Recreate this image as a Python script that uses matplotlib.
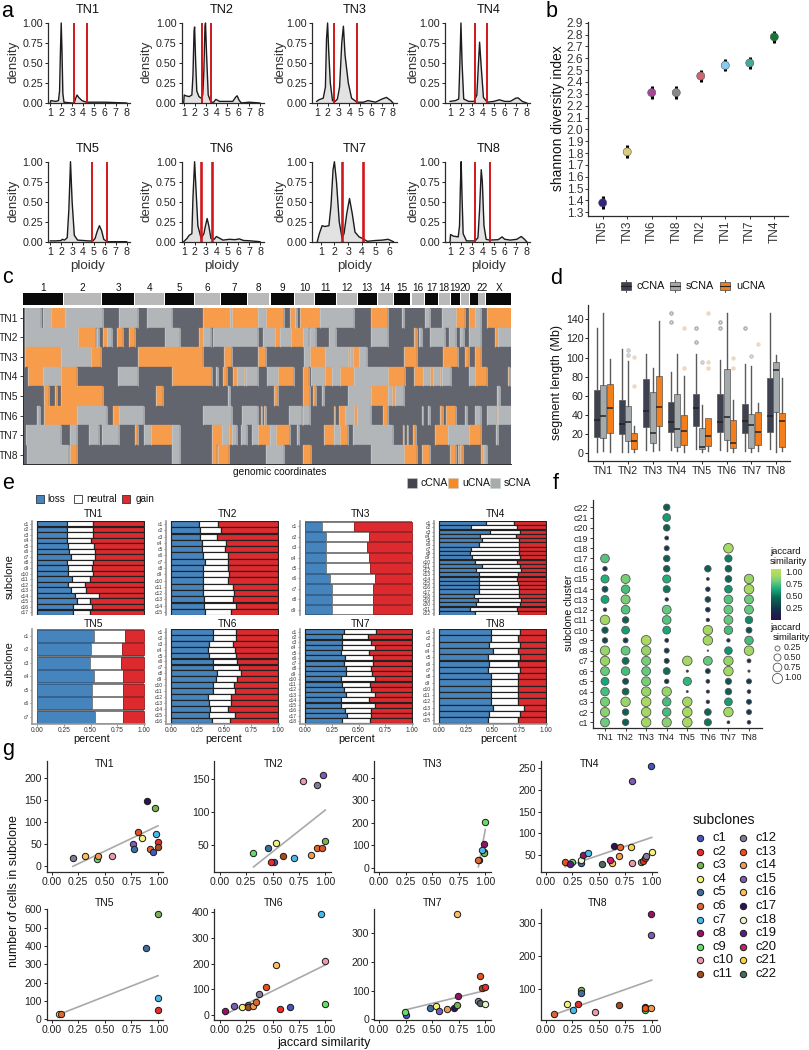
import matplotlib
matplotlib.use('Agg')
import matplotlib.pyplot as plt
from matplotlib.cm import ScalarMappable
from matplotlib.colors import LinearSegmentedColormap, Normalize
from matplotlib.patches import Rectangle
import numpy as np

plt.rcParams['font.family'] = ['Liberation Sans', 'DejaVu Sans']

W, H = 809, 1050
DARK = '#2b2b2b'

# ---- panel a: ploidy density curves
TN1_PLOIDY = [1.0, 1.05, 1.5, 1.75, 1.85, 1.93, 2.0, 2.07, 2.15, 2.25, 3.0, 3.2, 3.3, 3.45, 3.6, 3.9, 4.3, 5, 6, 7, 8]
TN1_DENS = [0, .03, .02, .03, .15, .65, 1.0, .65, .12, .01, 0, 0, .05, .1, .07, .03, .01, .01, .01, .005, 0]
TN2_PLOIDY = [1.0, 1.05, 1.2, 1.5, 1.75, 1.85, 1.95, 2.0, 2.1, 2.2, 2.4, 2.6, 2.75, 2.85, 2.95, 3.0, 3.1, 3.25, 3.5, 3.75, 3.95, 4.3, 5.0, 5.5, 5.75, 5.9, 6.1, 6.3, 7, 8]
TN2_DENS = [0, .1, .09, .08, .1, .35, .9, .95, .5, .15, .08, .06, .1, .4, .95, 1.0, .6, .1, .01, .01, .045, .02, .02, .02, .07, .09, .03, 0, .01, 0]
TN3_PLOIDY = [1.0, 1.2, 1.6, 1.8, 1.9, 2.0, 2.1, 2.25, 2.45, 2.7, 2.9, 3.1, 3.3, 3.45, 3.6, 3.9, 4.2, 4.7, 5.3, 5.7, 6.4, 7.0, 7.4, 7.8, 8]
TN3_DENS = [.02, .04, .06, .2, .8, 1.0, .65, .25, .03, .02, .05, .2, .75, .96, .6, .25, .06, .01, .01, .03, .01, .05, .07, .03, 0]
TN4_PLOIDY = [1, 1.5, 1.8, 1.9, 2, 2.1, 2.25, 2.7, 3.2, 3.45, 3.6, 3.7, 3.85, 4.05, 4.4, 5, 5.5, 6, 6.5, 7, 7.2, 7.6, 8]
TN4_DENS = [.02, .03, .05, .5, 1, .5, .05, .02, .02, .1, .5, .76, .45, .07, .01, .02, .04, .02, .02, .06, .065, .02, 0]
TN5_PLOIDY = [1, 1.5, 2, 2.1, 2.3, 2.55, 2.7, 2.85, 3.0, 3.2, 3.5, 4, 4.5, 4.9, 5.1, 5.3, 5.5, 5.7, 5.9, 6.2, 7, 8]
TN5_DENS = [.01, .01, .015, .03, .02, .05, .4, 1, .5, .08, .02, .015, .01, .01, .04, .13, .2, .14, .03, 0, 0, 0]
TN6_PLOIDY = [1.0, 1.3, 1.5, 1.75, 1.85, 2, 2.15, 2.3, 2.6, 2.85, 3.0, 3.15, 3.3, 3.5, 3.8, 4, 4.2, 4.6, 5.2, 5.7, 6.1, 6.5, 7, 8]
TN6_DENS = [0, .04, .08, .1, .55, 1, .6, .2, .04, .1, .2, .29, .2, .04, .03, .065, .05, .02, .03, .025, .035, .015, .012, 0]
TN7_PLOIDY = [.75, .9, 1.1, 1.3, 1.6, 1.75, 1.9, 2.0, 2.15, 2.35, 2.55, 2.7, 2.9, 3.1, 3.3, 3.5, 3.8, 4.05, 4.4, 5, 5.5, 5.9, 6.05, 6.3]
TN7_DENS = [0, .1, .2, .19, .2, .45, .9, 1.0, .75, .25, .05, .1, .35, .54, .35, .12, .06, .04, .005, .015, .02, .03, .02, 0]
TN8_PLOIDY = [1, 1.05, 1.3, 1.75, 1.87, 1.95, 2.02, 2.1, 2.2, 2.5, 3, 3.3, 3.55, 3.7, 3.85, 3.95, 4.1, 4.3, 4.6, 5.4, 5.75, 6, 6.5, 7.1, 7.5, 7.8, 8]
TN8_DENS = [0, .09, .07, .06, .2, .7, 1, .55, .1, .01, .01, .01, .05, .4, .9, .75, .2, .03, .02, .025, .06, .03, .02, .03, .065, .03, 0]
RED_LINES = [[3.15, 4.33], [2.68, 3.48], [2.55, 4.68], [3.25, 4.38], [4.79, 6.23], [2.59, 3.6], [2.53, 4.06], [3.25, 4.65]]

# ---- panel b
SH_NAMES = ['TN5', 'TN3', 'TN6', 'TN8', 'TN2', 'TN1', 'TN7', 'TN4']
SH_VALUES = [1.38, 1.81, 2.31, 2.31, 2.45, 2.54, 2.56, 2.78]
SH_ERR = [.055, .055, .055, .055, .05, .05, .05, .05]
SH_COLORS = ['#332288', '#ddcc77', '#aa4499', '#888888', '#cc6677', '#88ccee', '#44aa99', '#117733']

# ---- panel c: (segment end, state), genome position in arbitrary units
CHROM_NAMES = ['1', '2', '3', '4', '5', '6', '7', '8', '9', '10', '11', '12', '13', '14', '15', '16', '17', '18', '19', '20', '', '22', 'X']
CHROM_START = [70, 192, 307, 405, 495, 586, 664, 744, 812, 884, 946, 1012, 1074, 1133, 1182, 1235, 1276, 1316, 1352, 1383, 1411, 1435, 1459]
CHROM_END = [189, 303, 403, 492, 583, 660, 741, 808, 881, 943, 1009, 1071, 1130, 1179, 1231, 1273, 1313, 1349, 1380, 1408, 1433, 1456, 1533]
HEAT_TN1 = [(76,'c'),(122,'s'),(130,'c'),(153,'s'),(196,'u'),(310,'s'),(358,'c'),(414,'s'),(440,'c'),(515,'s'),(609,'c'),(690,'u'),(696,'s'),(773,'u'),(797,'s'),(851,'u'),(871,'c'),(884,'u'),(892,'s'),(900,'c'),(961,'u'),(1062,'s'),(1113,'c'),(1165,'u'),(1206,'c'),(1212,'s'),(1275,'c'),(1289,'s'),(1327,'c'),(1367,'s'),(1394,'u'),(1406,'c'),(1426,'u'),(1443,'s'),(1461,'c'),(1533,'u')]
HEAT_TN2 = [(76,'c'),(233,'s'),(287,'u'),(292,'c'),(296,'s'),(308,'c'),(322,'u'),(337,'s'),(352,'c'),(370,'u'),(386,'c'),(404,'u'),(496,'c'),(540,'s'),(598,'c'),(609,'u'),(632,'s'),(639,'c'),(774,'s'),(790,'c'),(825,'s'),(839,'u'),(872,'s'),(908,'u'),(926,'s'),(930,'c'),(948,'s'),(986,'c'),(1008,'s'),(1113,'c'),(1165,'s'),(1243,'c'),(1252,'u'),(1257,'c'),(1267,'s'),(1290,'c'),(1335,'s'),(1346,'c'),(1367,'s'),(1380,'c'),(1392,'s'),(1407,'c'),(1443,'s'),(1485,'c'),(1493,'u'),(1533,'s')]
HEAT_TN3 = [(75,'c'),(184,'u'),(273,'s'),(303,'u'),(414,'c'),(609,'u'),(671,'c'),(696,'u'),(774,'c'),(797,'u'),(913,'c'),(931,'s'),(976,'u'),(1044,'s'),(1050,'u'),(1060,'s'),(1078,'u'),(1100,'s'),(1212,'c'),(1252,'u'),(1328,'c'),(1373,'u'),(1394,'c'),(1407,'u'),(1426,'c'),(1443,'u'),(1533,'c')]
HEAT_TN4 = [(85,'c'),(128,'u'),(184,'s'),(232,'u'),(355,'c'),(414,'s'),(515,'c'),(637,'u'),(648,'c'),(655,'s'),(668,'c'),(680,'u'),(698,'c'),(712,'u'),(731,'s'),(739,'u'),(774,'s'),(800,'c'),(833,'s'),(881,'u'),(908,'c'),(926,'u'),(932,'c'),(976,'s'),(996,'u'),(1021,'s'),(1062,'u'),(1165,'s'),(1215,'u'),(1243,'c'),(1269,'u'),(1290,'s'),(1300,'u'),(1320,'s'),(1327,'u'),(1354,'s'),(1407,'c'),(1426,'s'),(1462,'u'),(1523,'c'),(1530,'u'),(1533,'c')]
HEAT_TN5 = [(131,'c'),(147,'u'),(164,'c'),(172,'u'),(184,'c'),(309,'u'),(468,'c'),(488,'u'),(685,'c'),(689,'s'),(822,'c'),(833,'u'),(908,'c'),(931,'u'),(940,'c'),(947,'u'),(966,'c'),(973,'s'),(1044,'c'),(1113,'s'),(1165,'u'),(1175,'s'),(1185,'u'),(1212,'s'),(1490,'c'),(1500,'s'),(1533,'c')]
HEAT_TN6 = [(112,'c'),(119,'s'),(131,'c'),(232,'u'),(320,'s'),(339,'c'),(357,'u'),(431,'s'),(609,'c'),(696,'s'),(726,'c'),(775,'s'),(782,'c'),(786,'u'),(793,'c'),(798,'u'),(866,'c'),(905,'s'),(908,'c'),(931,'s'),(1002,'c'),(1006,'u'),(1017,'c'),(1036,'u'),(1062,'s'),(1070,'u'),(1113,'s'),(1150,'c'),(1165,'u'),(1265,'c'),(1270,'s'),(1285,'c'),(1290,'s'),(1321,'c'),(1328,'u'),(1338,'c'),(1367,'u'),(1394,'c'),(1402,'s'),(1426,'c'),(1443,'s'),(1462,'c'),(1490,'s'),(1494,'u'),(1533,'s')]
HEAT_TN7 = [(77,'c'),(184,'s'),(211,'c'),(231,'s'),(268,'c'),(296,'s'),(307,'c'),(357,'s'),(404,'c'),(414,'u'),(433,'c'),(453,'s'),(515,'u'),(540,'s'),(637,'c'),(665,'u'),(688,'s'),(696,'u'),(712,'s'),(722,'c'),(742,'s'),(757,'c'),(774,'s'),(810,'u'),(827,'s'),(871,'u'),(890,'c'),(896,'s'),(971,'c'),(1002,'u'),(1019,'s'),(1044,'u'),(1060,'c'),(1178,'s'),(1208,'c'),(1212,'u'),(1220,'c'),(1225,'u'),(1240,'c'),(1248,'u'),(1305,'c'),(1343,'u'),(1408,'s'),(1443,'u'),(1487,'c'),(1493,'s'),(1533,'c')]
HEAT_TN8 = [(82,'c'),(206,'s'),(211,'c'),(232,'u'),(515,'c'),(540,'s'),(637,'c'),(650,'u'),(653,'c'),(688,'u'),(797,'c'),(851,'s'),(908,'c'),(932,'u'),(1113,'c'),(1212,'s'),(1252,'u'),(1267,'c'),(1290,'u'),(1349,'c'),(1367,'u'),(1373,'c'),(1378,'u'),(1381,'c'),(1390,'u'),(1443,'c'),(1449,'u'),(1462,'s'),(1533,'c')]
HEAT_ROWS = [HEAT_TN1, HEAT_TN2, HEAT_TN3, HEAT_TN4, HEAT_TN5, HEAT_TN6, HEAT_TN7, HEAT_TN8]
HEAT_COLORS = {'c': '#62646e', 'u': '#f79c4b', 's': '#b2b6b9'}

# ---- panel d: [whisker low, q1, median, q3, whisker high]
BOX_CCNA = [[1,17,35,66,131],[1,20,31,56,109],[3,27,44,78,104],[3,22,33,54,85],[5,29,47,62,104],[3,22,33,62,98],[2,21,34,51,93],[5,22,39,79,147]]
BOX_SCNA = [[2,16,39,71,147],[1,13,33,49,96],[2,11,21,64,89],[2,7,25,62,104],[1,4,7,26,50],[2,14,38,88,147],[1,6,30,41,91],[1,43,87,95,103]]
BOX_UCNA = [[1,21,47,72,99],[1,4,13,21,28],[3,28,48,81,138],[1,9,23,40,81],[2,8,18,37,37],[1,6,11,35,56],[2,9,22,43,53],[2,7,34,42,79]]
FLIERS_CCNA = [[],[],[],[137,147],[116,131],[131,137],[131],[]]
FLIERS_SCNA = [[],[103,108],[],[],[95],[],[102],[]]
FLIERS_UCNA = [[],[70,101],[],[89,131],[89,95,147],[89,100],[114],[]]
TN_NAMES = ['TN1', 'TN2', 'TN3', 'TN4', 'TN5', 'TN6', 'TN7', 'TN8']

# ---- panel e: loss fraction and end of the neutral part, per subclone
LOSS_TN1 = [.28,.28,.28,.28,.29,.30,.315,.28,.29,.29,.325,.29,.32,.35,.37,.335,.335]
NEUT_TN1 = [.525,.525,.525,.50,.535,.54,.54,.525,.515,.525,.49,.445,.46,.575,.49,.51,.49]
LOSS_TN2 = [.266,.275,.275,.294,.294,.303,.322,.303,.303,.303,.303,.303,.3125,.3125,.322]
NEUT_TN2 = [.444,.466,.431,.516,.506,.534,.534,.534,.544,.534,.581,.591,.578,.6125,.559]
LOSS_TN3 = [.16,.20,.20,.20,.20,.23,.255,.255,.255]
NEUT_TN3 = [.458,.60,.58,.60,.61,.655,.635,.635,.635]
LOSS_TN4 = [.44,.296,.477,.383,.40,.37,.30,.29,.31,.34,.40,.35,.37,.37,.37,.37,.37,.33,.36,.35,.29,.34]
NEUT_TN4 = [.705,.73,.76,.72,.75,.75,.75,.75,.757,.73,.757,.77,.74,.73,.74,.75,.75,.75,.763,.757,.726,.74]
LOSS_TN5 = [.53,.505,.49,.53,.51,.51,.54]
NEUT_TN5 = [.82,.795,.785,.805,.805,.805,.805]
LOSS_TN6 = [.39,.39,.36,.35,.36,.39,.39,.43,.42,.39,.39,.35,.36,.37,.36,.38]
NEUT_TN6 = [.61,.61,.58,.60,.61,.62,.64,.655,.62,.59,.60,.5625,.5625,.534,.60,.553]
LOSS_TN7 = [.36,.35,.35,.35,.34,.37,.36,.38,.385,.34,.35,.36,.385,.34,.34,.37,.39,.345]
NEUT_TN7 = [.66,.59,.62,.65,.60,.64,.64,.62,.63,.65,.61,.62,.65,.60,.65,.62,.62,.61]
LOSS_TN8 = [.486,.483,.467,.50,.455,.467,.455,.483,.483,.483,.483,.483,.50,.47,.455]
NEUT_TN8 = [.757,.74,.757,.74,.757,.74,.757,.74,.74,.74,.74,.74,.79,.757,.74]
E_LOSS = [LOSS_TN1, LOSS_TN2, LOSS_TN3, LOSS_TN4, LOSS_TN5, LOSS_TN6, LOSS_TN7, LOSS_TN8]
E_NEUT = [NEUT_TN1, NEUT_TN2, NEUT_TN3, NEUT_TN4, NEUT_TN5, NEUT_TN6, NEUT_TN7, NEUT_TN8]

# ---- panel f: jaccard similarity for c1, c2, ... in each sample
JAC_TN1 = [.8,.85,.82,.72,.62,.78,.88,.88,.3,.4,.9,.12,.62,.35,.65,.2,.75]
JAC_TN2 = [.42,.42,.88,.46,.36,.72,.48,.78,.25,.6,.42,.75,.82,.72,.82]
JAC_TN3 = [.9,.9,.92,.88,.82,.78,.82,.88,.95]
JAC_TN4 = [.85,.72,.72,.88,.2,.48,.25,.25,.15,.62,.75,.78,.12,.5,.65,.42,.42,.25,.15,.43,.6,.42]
JAC_TN5 = [.92,.92,.9,.04,.68,.05,.9]
JAC_TN6 = [.5,.45,.12,.1,.14,.24,.78,.02,.9,.9,.12,.22,.32,.2,.08,.42]
JAC_TN7 = [.08,.9,.6,.42,.38,.9,.88,.58,.12,.72,.78,.78,.75,.58,.45,.45,.52,.92]
JAC_TN8 = [.13,.25,.25,.13,.25,.05,.15,.9,.72,.35,.55,.78,.8,.92,.88]
F_JAC = [JAC_TN1, JAC_TN2, JAC_TN3, JAC_TN4, JAC_TN5, JAC_TN6, JAC_TN7, JAC_TN8]
F_CMAP = [(0, '#2a1245'), (.2, '#14304f'), (.45, '#0b6a52'), (.6, '#17a878'), (.75, '#63c97f'), (.87, '#a5d864'), (1, '#b9df5a')]

# ---- panel g: (subclone, jaccard, cells) and the end points of the fit
SC_TN1 = [(12,.20,18),(16,.31,23),(9,.43,17),(14,.44,23),(10,.57,23),(15,.765,51),(5,.77,40),(13,.81,79),(4,.85,65),(17,.90,148),(3,.97,133),(6,.925,39),(1,.955,32),(7,.985,73),(2,1.0,55),(11,1.0,45)]
SC_TN2 = [(9,.32,37),(5,.46,45),(4,.533,52),(1,.514,24),(2,.49,23),(11,.60,32),(7,.70,29),(14,.865,35),(6,.92,45),(13,.97,44.5),(3,1.0,55.6),(10,.79,147),(12,.92,142),(15,.975,156)]
SC_TN3 = [(9,1.0,203),(2,.99,71),(3,.987,65),(8,.99,107),(7,.967,77),(5,.945,34),(6,.935,33)]
SC_TN4 = [(13,.18,32),(9,.243,34),(19,.23,28),(5,.33,30),(18,.334,38),(8,.353,49),(7,.397,55),(22,.527,28),(16,.625,30),(20,.605,38),(17,.64,71),(6,.70,67),(14,.695,46),(21,.80,67),(10,.81,30),(3,.90,32),(2,.92,35),(11,.94,43),(12,.95,46),(4,1.0,57),(15,.817,220),(1,.997,255)]
SC_TN5 = [(4,.07,27),(6,.09,27),(5,.885,389),(3,1.0,574),(7,1.0,118),(2,1.0,53)]
SC_TN6 = [(8,.047,17),(15,.136,36),(4,.21,32),(5,.27,40),(11,.265,30),(14,.315,36),(6,.34,51),(12,.37,80),(13,.44,110),(16,.53,196),(2,.574,25),(1,.67,31),(7,.96,392),(10,1.0,210),(9,1.0,42)]
SC_TN7 = [(1,.25,15),(9,.24,25),(5,.48,39),(4,.536,45),(15,.565,30),(14,.64,37),(17,.71,40),(3,.735,51),(8,.743,80),(16,.737,365),(12,.93,62),(22,.95,58),(13,.947,152),(11,.97,110),(2,1.0,113),(18,1.0,53)]
SC_TN8 = [(6,.076,22),(4,.195,55),(7,.255,35),(2,.306,54),(3,.334,96),(5,.33,88),(10,.46,28),(11,.695,52),(9,.94,34),(17,.94,45),(13,.94,43),(14,.997,43),(8,.994,325),(15,.99,263)]
G_POINTS = [SC_TN1, SC_TN2, SC_TN3, SC_TN4, SC_TN5, SC_TN6, SC_TN7, SC_TN8]
FIT_JAC = [(.20,1.0),(.32,1.0),(.935,1.0),(.18,1.0),(.07,1.0),(.05,1.0),(.24,1.0),(.08,1.0)]
FIT_CELLS = [(0,92),(16,103),(4,170),(22,90),(27,238),(2,195),(32,100),(22,126)]
SUB_COLORS = ['#4455bb','#ee2a24','#77b34f','#f5f27a','#3b6fa0','#e0662c','#44bbee','#991166','#66dd66','#ee99aa','#a84a1a',
              '#857a99','#e8501c','#f09a4e','#7b5cb8','#fbbf5e','#2c1454','#e8f3cf','#5e1a8c','#d01a6e','#f7d44a','#4a6a60']


def px_axes(l, t, r, b):
  return fig.add_axes([l / W, 1 - b / H, (r - l) / W, (b - t) / H])

def scale_lim(v0, p0, v1, p1, a, b):
  # axis limits so that value v0 lands on pixel p0 and v1 on p1
  k = (v1 - v0) / (p1 - p0)
  return v0 + (a - p0) * k, v0 + (b - p0) * k

def clean(ax, lw=0.9, color=DARK):
  for side in ['top', 'right']:
    ax.spines[side].set_visible(False)
  for side in ['left', 'bottom']:
    ax.spines[side].set_linewidth(lw)
    ax.spines[side].set_color(color)

def label(x, y, s, size, rotation=0, ha='center', va='center', color='#111111'):
  over.text(x, y, s, fontsize=size, rotation=rotation, ha=ha, va=va, color=color)


fig = plt.figure(figsize=(W / 100, H / 100), dpi=100)
over = fig.add_axes([0, 0, 1, 1], zorder=20)
over.set_xlim(0, W)
over.set_ylim(H, 0)
over.axis('off')

# panel letters
for s, x, y in [('a', 1, 17), ('b', 546, 17), ('c', 2, 283), ('d', 550, 284), ('e', 2, 489), ('f', 553, 489), ('g', 2, 755)]:
  label(x, y, s, 15.5, ha='left', va='baseline', color='black')

# ---- a
curves = [(TN1_PLOIDY, TN1_DENS), (TN2_PLOIDY, TN2_DENS), (TN3_PLOIDY, TN3_DENS), (TN4_PLOIDY, TN4_DENS),
          (TN5_PLOIDY, TN5_DENS), (TN6_PLOIDY, TN6_DENS), (TN7_PLOIDY, TN7_DENS), (TN8_PLOIDY, TN8_DENS)]
a_left = [48, 181.5, 312, 445]
a_t1 = [50.3, 183.7, 316.7, 450]
a_t8 = [126.7, 260, 393, 526.7]
a_right = [130, 263.5, 397, 530]
a_title = [88, 221.7, 355, 488.3]
a_ylab = [13.3, 146.7, 280.7, 413.3]
for i in range(8):
  col, row = i % 4, i // 4
  top, bottom = (23, 103) if row == 0 else (161.7, 241.7)
  ax = px_axes(a_left[col], top, a_right[col], bottom)
  xs, ys = curves[i]
  ax.fill_between(xs, 0, ys, color='#e2e2e2', lw=0)
  ax.plot(xs, ys, color='#1c1c1c', lw=1.0, clip_on=False)
  lw = 1.9 if i in (5, 6) else 1.4
  for v in RED_LINES[i]:
    ax.axvline(v, color='#d3171c', lw=lw)
  if i == 6:
    ax.set_xlim(*scale_lim(1, 320.7, 6, 389.3, a_left[col], a_right[col]))
    ax.set_xticks(range(1, 7))
  else:
    ax.set_xlim(*scale_lim(1, a_t1[col], 8, a_t8[col], a_left[col], a_right[col]))
    ax.set_xticks(range(1, 9))
  ax.set_ylim(0, 1)
  ax.set_yticks([0, .25, .5, .75, 1])
  ax.set_yticklabels(['0.00', '0.25', '0.50', '0.75', '1.00'])
  ax.tick_params(labelsize=7.7, length=2, width=0.7, pad=1.5, colors='#222222')
  clean(ax)
  label(a_title[col], 10 if row == 0 else 149.3, TN_NAMES[i], 9.2)
  label(a_ylab[col], 61.7 if row == 0 else 201, 'density', 9.6, rotation=90, color='#333333')
  if row == 1:
    label(a_title[col], 265.5, 'ploidy', 9.6, color='#333333')

# ---- b
ax = px_axes(588, 22, 788, 216)
pos = np.arange(len(SH_NAMES))
ax.errorbar(pos, SH_VALUES, yerr=SH_ERR, fmt='none', ecolor='black', elinewidth=2.2, zorder=2)
ax.scatter(pos, SH_VALUES, c=SH_COLORS, s=34, linewidths=0.4, edgecolors='#555555', zorder=3)
ax.set_xlim(*scale_lim(0, 602.7, 7, 774.3, 588, 788))
ax.set_ylim(*scale_lim(1.3, 212.3, 2.9, 22.7, 216, 22))
ax.set_yticks(np.arange(1.3, 2.95, 0.1))
ax.set_yticklabels(['%.1f' % v for v in np.arange(1.3, 2.95, 0.1)])
ax.set_xticks(pos)
ax.set_xticklabels(SH_NAMES, rotation=90)
ax.tick_params(labelsize=8.6, length=2, width=0.7, pad=1.5, colors='#333333')
clean(ax)
label(558.3, 118, 'shannon diversity index', 10, rotation=90)

# ---- c
ax = px_axes(22.7, 293, 511, 305)
for i, name in enumerate(CHROM_NAMES):
  ax.barh(0, CHROM_END[i] - CHROM_START[i], left=CHROM_START[i], height=1,
          color='#0a0a0a' if i % 2 == 0 else '#b9b9b9')
  label((CHROM_START[i] + CHROM_END[i]) / 6, 287.7, name, 7.2)
ax.set_xlim(68, 1533)
ax.set_ylim(-0.5, 0.5)
ax.axis('off')

ax = px_axes(22.7, 308, 511, 464.5)
for r, segs in enumerate(HEAT_ROWS):
  left = 68
  for end, state in segs:
    colr = HEAT_COLORS[state]
    ax.barh(r, end - left, left=left, height=1, color=colr, edgecolor=colr, lw=0.25)
    left = end
  # thin pale seam at each segment change, the image is a little blurred there
  ax.vlines([e for e, _ in segs[:-1]], r - 0.5, r + 0.5, color='#c9cccd', lw=0.45)
ax.set_xlim(68, 1533)
ax.set_ylim(7.5, -0.5)
ax.set_xticks([])
ax.set_yticks(range(8))
ax.set_yticklabels(TN_NAMES)
ax.tick_params(labelsize=7.4, length=2, width=0.6, pad=1, colors='#222222')
clean(ax, lw=0.7)
label(280, 471.7, 'genomic coordinates', 7.3)
for x0, x1, lab_x, txt, colr in [(407, 417, 420.7, 'cCNA', '#44454f'), (448.3, 458, 462.3, 'uCNA', '#f58a28'), (490, 500, 504, 'sCNA', '#a6abad')]:
  over.add_patch(Rectangle((x0, 477.7), x1 - x0, 10.6, facecolor=colr, edgecolor='#cccccc', lw=0.4))
  label(lab_x, 483, txt, 7.6, ha='left')

# ---- d
ax = px_axes(588.3, 305, 790, 460.7)
box_sets = [(BOX_CCNA, FLIERS_CCNA, '#3e414f', '#979aa0', -0.255), (BOX_SCNA, FLIERS_SCNA, '#a4aaac', '#b9bebf', 0.0), (BOX_UCNA, FLIERS_UCNA, '#f47e1a', '#f6d3ad', 0.255)]
for boxes, fliers, colr, flier_col, off in box_sets:
  stats = []
  for b, f in zip(boxes, fliers):
    stats.append({'whislo': b[0], 'q1': b[1], 'med': b[2], 'q3': b[3], 'whishi': b[4], 'fliers': f})
  ax.bxp(stats, positions=np.arange(8) + off, widths=0.25, patch_artist=True, showcaps=False, manage_ticks=False,
         boxprops=dict(facecolor=colr, edgecolor='#555555', lw=0.5),
         whiskerprops=dict(color='#5a5a5a', lw=1.0),
         medianprops=dict(color='#222222', lw=1.1),
         flierprops=dict(marker='o', markersize=2.4, markerfacecolor='#dddddd', markeredgecolor=flier_col, markeredgewidth=0.7))
ax.set_xlim(*scale_lim(0, 603.3, 7, 776, 588.3, 790))
ax.set_ylim(*scale_lim(0, 453.3, 140, 319.3, 460.7, 305))
ax.set_xticks(range(8))
ax.set_xticklabels(TN_NAMES)
ax.set_yticks(range(0, 141, 20))
ax.tick_params(labelsize=7.7, length=2, width=0.7, pad=1.5, colors='#222222')
clean(ax)
label(556.7, 382.7, 'segment length (Mb)', 9, rotation=90)
for x0, lab_x, txt, colr in [(620.7, 636.7, 'cCNA', '#3e414f'), (670.3, 686, 'sCNA', '#a4aaac'), (719.7, 736, 'uCNA', '#f47e1a')]:
  over.plot([x0 + 5, x0 + 5], [280, 292], color='#555555', lw=0.7, zorder=1)
  over.add_patch(Rectangle((x0, 281.7), 10, 8.3, facecolor=colr, edgecolor='#444444', lw=0.5, zorder=2))
  over.plot([x0, x0 + 10], [285.8, 285.8], color='#222222', lw=0.8, zorder=3)
  label(lab_x, 286, txt, 7.8, ha='left')

# ---- e
e_x0 = [37.2, 171, 305, 439]
e_x1 = [144, 277.7, 412, 546]
e_title = [93.3, 227.7, 361, 495.3]
e_percent = [91.7, 223.3, 356.7, 498.3]
for i in range(8):
  col, row = i % 4, i // 4
  top, bottom = (521, 615) if row == 0 else (629, 723.5)
  ax = px_axes(e_x0[col] - 5, top, e_x1[col] + 1, bottom)
  loss = np.array(E_LOSS[i])
  neut = np.array(E_NEUT[i])
  y = np.arange(len(loss))
  sparse = len(loss) < 10
  edge = dict(height=0.9 if sparse else 0.97, lw=0.6 if sparse else 0.85)
  gap = '#777777' if sparse else '#222222'
  # backing strip shows through between the bars
  ax.barh(y, np.ones(len(y)), height=1, color=gap, lw=0)
  ax.barh(y, loss, color='#4684bd', edgecolor='#2e5f8c' if sparse else gap, **edge)
  ax.barh(y, neut - loss, left=loss, color='white', edgecolor=gap, **edge)
  ax.barh(y, 1 - neut, left=neut, color='#dc2a2e', edgecolor='#9a1c1f' if sparse else gap, **edge)
  ax.set_xlim(*scale_lim(0, e_x0[col], 1, e_x1[col], e_x0[col] - 5, e_x1[col] + 1))
  ax.set_ylim(len(loss) - 0.5, -0.5)
  ax.set_yticks(y)
  ax.set_yticklabels(['c%d' % (k + 1) for k in y])
  ax.tick_params(axis='y', labelsize=3.6, length=1.5, width=0.4, pad=1, colors='#333333')
  if row == 1:
    ax.set_xticks([0, .25, .5, .75, 1])
    ax.set_xticklabels(['0.00', '0.25', '0.50', '0.75', '1.00'])
    ax.tick_params(axis='x', labelsize=4.8, length=1.5, width=0.4, pad=1, colors='#333333')
    label(e_percent[col], 739.3, 'percent', 7.8)
  else:
    ax.set_xticks([])
  clean(ax, lw=1.2, color='#9a9a9a')
  if row == 0:
    ax.spines['bottom'].set_visible(False)
  label(e_title[col], 514.3 if row == 0 else 624, TN_NAMES[i], 7.4)
label(10, 577, 'subclone', 8, rotation=90)
label(10, 664, 'subclone', 8, rotation=90)
for x0, x1, lab_x, txt, colr in [(35.7, 44, 47.7, 'loss', '#4684bd'), (74, 81.7, 86, 'neutral', 'white'), (122.3, 130, 135.7, 'gain', '#dc2a2e')]:
  over.add_patch(Rectangle((x0, 495), x1 - x0, 7.7, facecolor=colr, edgecolor='#333333', lw=0.6))
  label(lab_x, 498.5, txt, 7.2, ha='left')

# ---- f
f_cmap = LinearSegmentedColormap.from_list('jac', F_CMAP)
f_norm = Normalize(0, 1.04)
ax = px_axes(592.7, 500, 761.7, 728.3)
for i, jac in enumerate(F_JAC):
  jac = np.array(jac)
  ax.scatter(np.full(len(jac), i), np.arange(len(jac)), c=jac, cmap=f_cmap, norm=f_norm, s=52 * jac,
             edgecolors='#555555', linewidths=0.6, clip_on=False, zorder=3)
ax.set_xlim(*scale_lim(0, 605, 7, 749, 592.7, 761.7))
ax.set_ylim(*scale_lim(0, 722.3, 21, 507.3, 728.3, 500))
ax.set_xticks(range(8))
ax.set_xticklabels(TN_NAMES)
ax.set_yticks(range(22))
ax.set_yticklabels(['c%d' % (k + 1) for k in range(22)])
ax.tick_params(labelsize=6.4, length=2, width=0.6, pad=1.5, colors='#222222')
clean(ax)
label(569, 613.3, 'subclone cluster', 7.6, rotation=90)

cax = px_axes(770.7, 569.3, 780.7, 619.7)
cbar = fig.colorbar(ScalarMappable(norm=f_norm, cmap=f_cmap), cax=cax)
cbar.set_ticks([.25, .5, .75, 1])
cbar.set_ticklabels(['0.25', '0.50', '0.75', '1.00'])
cbar.ax.tick_params(labelsize=6.4, length=0, pad=3.5, colors='#222222')
cbar.outline.set_visible(False)
label(770, 551, 'jaccard', 6.8, ha='left')
label(770, 561.7, 'similarity', 6.8, ha='left')
label(770, 627, 'jaccard', 6.8, ha='left')
label(773, 638, 'similarity', 6.8, ha='left')
for v, yy in zip([.25, .5, .75, 1.0], [647.7, 657.3, 667.3, 677.7]):
  over.scatter([776.7], [yy], s=52 * v, facecolors='white', edgecolors='#555555', linewidths=0.6)
  label(784, yy, '%.2f' % v, 6.4, ha='left', color='#222222')

# ---- g
g_left = [46.7, 214.3, 374, 540.7]
g_right = [163, 331, 490.7, 656.7]
g_x0 = [51.7, 219.7, 379, 546]
g_x1 = [158, 325.3, 485.3, 651.7]
g_title = [105, 273.3, 432.3, 590, 105, 273.3, 432.3, 598]
g_y = [(0, 866.3, 200, 778.3), (50, 844.7, 150, 779.3), (0, 867.7, 400, 777.7), (50, 854.7, 250, 768.3),
       (0, 1019.3, 600, 909.3), (0, 1015, 400, 912.3), (0, 1019.3, 300, 933), (100, 988.7, 300, 922.7)]
g_ticks = [range(0, 201, 50), range(50, 151, 50), range(0, 401, 100), range(50, 251, 50),
           range(0, 601, 100), range(0, 401, 100), range(0, 301, 100), range(100, 301, 100)]
for i in range(8):
  col, row = i % 4, i // 4
  top, bottom = (761, 871.7) if row == 0 else (909.3, 1019.7)
  ax = px_axes(g_left[col], top, g_right[col], bottom)
  ax.plot(FIT_JAC[i], FIT_CELLS[i], color='#a9a9a9', lw=1.2, zorder=2)
  for sub, j, n in G_POINTS[i]:
    ax.scatter([j], [n], s=21, color=SUB_COLORS[sub - 1], edgecolors='#1a1a1a', linewidths=0.7, clip_on=False, zorder=3)
  ax.set_xlim(*scale_lim(0, g_x0[col], 1, g_x1[col], g_left[col], g_right[col]))
  ax.set_ylim(*scale_lim(g_y[i][0], g_y[i][1], g_y[i][2], g_y[i][3], bottom, top))
  ax.set_xticks([0, .25, .5, .75, 1])
  ax.set_xticklabels(['0.00', '0.25', '0.50', '0.75', '1.00'])
  ax.set_yticks(list(g_ticks[i]))
  ax.tick_params(labelsize=7.6, length=2, width=0.7, pad=1.5, colors='#222222')
  clean(ax)
  label(g_title[i], 764 if row == 0 else 903, TN_NAMES[i], 7.5)
label(14, 890.7, 'number of cells in subclone', 9, rotation=90)
label(324, 1043, 'jaccard similarity', 9)
label(693, 820, 'subclones', 10, ha='left')
for k, colr in enumerate(SUB_COLORS):
  c_x, l_x = (700, 712.7) if k < 11 else (743.3, 756)
  yy = 838.3 + (k % 11) * 13.54
  over.scatter([c_x], [yy], s=21, color=colr, edgecolors='#1a1a1a', linewidths=0.7)
  label(l_x, yy, 'c%d' % (k + 1), 9.4, ha='left')

over.set_xlim(0, W)
over.set_ylim(H, 0)
fig.savefig('out.png', dpi=100)
